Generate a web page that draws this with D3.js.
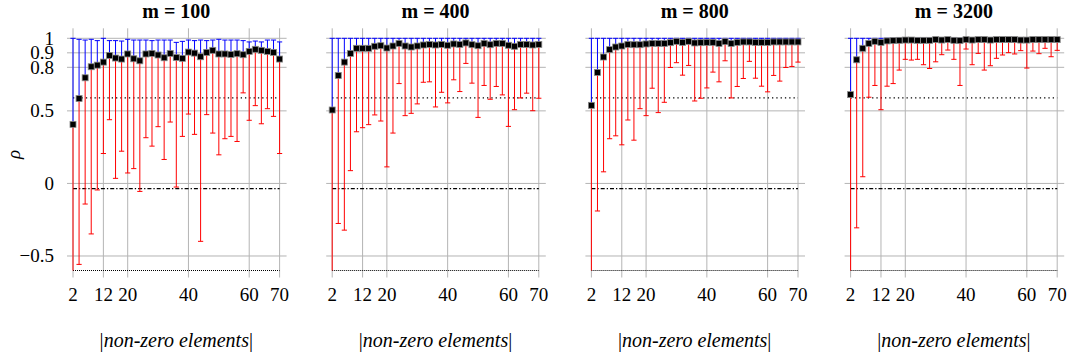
<!DOCTYPE html>
<html>
<head>
<meta charset="utf-8">
<script src="https://cdn.jsdelivr.net/npm/d3@7"></script>
<style>
  body { margin: 0; background: #fff; }
  svg { display: block; }
</style>
</head>
<body>
<svg id="chart" width="1070" height="359" font-family="'Liberation Serif', 'Times New Roman', Tinos, 'DejaVu Serif', 'Noto Serif', serif"></svg>
<script>
// panel titles
const titles = ["m = 100", "m = 400", "m = 800", "m = 3200"];

// |non-zero elements|
const xs = [2, 4, 6, 8, 10, 12, 14, 16, 18, 20, 22, 24, 26, 28, 30, 32, 34, 36, 38, 40,
  42, 44, 46, 48, 50, 52, 54, 56, 58, 60, 62, 64, 66, 68, 70];

const xTicks = [2, 12, 20, 40, 60, 70];
const yTicks = [1, 0.9, 0.8, 0.5, 0, -0.5];
const yTickLabels = ["1", "0.9", "0.8", "0.5", "0", "\u22120.5"];

// m = 100
const mean100 = [0.407, 0.585, 0.728, 0.804, 0.815, 0.836, 0.882, 0.864, 0.857, 0.892, 0.859, 0.845, 0.892, 0.896, 0.885, 0.866, 0.896, 0.868, 0.862, 0.905,
  0.898, 0.873, 0.903, 0.917, 0.892, 0.892, 0.889, 0.894, 0.887, 0.910, 0.924, 0.917, 0.910, 0.903, 0.857];
const lower100 = [-0.75, -0.558, -0.142, -0.348, -0.045, 0.206, 0.439, 0.035, 0.222, 0.072, 0.102, -0.055, 0.315, 0.257, 0.391, 0.165, 0.423, -0.025, 0.324, 0.478,
  0.338, -0.399, 0.474, 0.347, 0.197, 0.308, 0.324, 0.289, 0.624, 0.435, 0.536, 0.411, 0.515, 0.462, 0.206];
const upper100 = [1, 0.993, 0.988, 0.993, 0.984, 1, 0.984, 0.984, 0.981, 0.993, 0.988, 0.988, 0.988, 0.984, 0.988, 0.988, 0.988, 0.972, 0.979, 0.988,
  0.984, 0.988, 0.984, 0.988, 0.993, 0.988, 0.988, 0.988, 0.984, 0.975, 0.981, 0.975, 0.988, 0.988, 0.975];

// m = 400
const mean400 = [0.506, 0.744, 0.836, 0.896, 0.931, 0.931, 0.931, 0.945, 0.949, 0.933, 0.947, 0.965, 0.947, 0.940, 0.947, 0.954, 0.958, 0.954, 0.958, 0.952,
  0.961, 0.958, 0.968, 0.956, 0.949, 0.965, 0.956, 0.965, 0.965, 0.952, 0.945, 0.958, 0.958, 0.954, 0.958];
const lower400 = [-0.75, -0.276, -0.322, 0.088, 0.356, 0.384, 0.405, 0.472, 0.430, 0.114, 0.347, 0.688, 0.467, 0.483, 0.548, 0.697, 0.700, 0.527, 0.628, 0.555,
  0.714, 0.633, 0.827, 0.691, 0.455, 0.675, 0.580, 0.668, 0.610, 0.393, 0.508, 0.589, 0.622, 0.501, 0.587];
const upper400 = [1, 1, 1, 1, 1, 1, 1, 1, 1, 1, 1, 1, 1, 1, 1, 1, 1, 1, 1, 1,
  1, 1, 1, 1, 1, 1, 1, 1, 1, 1, 1, 1, 1, 1, 1];

// m = 800
const mean800 = [0.538, 0.765, 0.871, 0.922, 0.940, 0.947, 0.958, 0.956, 0.956, 0.961, 0.965, 0.965, 0.965, 0.970, 0.979, 0.972, 0.979, 0.968, 0.970, 0.972,
  0.972, 0.965, 0.977, 0.965, 0.972, 0.975, 0.975, 0.972, 0.972, 0.972, 0.975, 0.975, 0.975, 0.975, 0.975];
const lower800 = [-0.75, -0.19, 0.08, 0.308, 0.328, 0.266, 0.437, 0.298, 0.515, 0.467, 0.656, 0.488, 0.559, 0.799, 0.832, 0.746, 0.813, 0.568, 0.587, 0.658,
  0.767, 0.700, 0.845, 0.589, 0.668, 0.723, 0.841, 0.725, 0.670, 0.631, 0.744, 0.705, 0.799, 0.806, 0.836];
const upper800 = [1, 1, 1, 1, 1, 1, 1, 1, 1, 1, 1, 1, 1, 1, 1, 1, 1, 1, 1, 1,
  1, 1, 1, 1, 1, 1, 1, 1, 1, 1, 1, 1, 1, 1, 1];

// m = 3200
const mean3200 = [0.612, 0.852, 0.931, 0.965, 0.979, 0.972, 0.982, 0.984, 0.986, 0.988, 0.988, 0.986, 0.986, 0.986, 0.991, 0.988, 0.991, 0.986, 0.984, 0.991,
  0.988, 0.991, 0.991, 0.988, 0.991, 0.991, 0.991, 0.991, 0.988, 0.988, 0.991, 0.991, 0.991, 0.991, 0.991];
const lower3200 = [-0.75, -0.306, 0.046, 0.594, 0.675, 0.508, 0.670, 0.688, 0.781, 0.855, 0.850, 0.855, 0.818, 0.792, 0.838, 0.887, 0.919, 0.855, 0.675, 0.926,
  0.818, 0.896, 0.781, 0.811, 0.862, 0.885, 0.901, 0.892, 0.915, 0.795, 0.912, 0.894, 0.931, 0.873, 0.917];
const upper3200 = [1, 1, 1, 1, 1, 1, 1, 1, 1, 1, 1, 1, 1, 1, 1, 1, 1, 1, 1, 1,
  1, 1, 1, 1, 1, 1, 1, 1, 1, 1, 1, 1, 1, 1, 1];

// horizontal reference lines
const refValues = [0.59, -0.036, -0.6];
const refDashes = ["1.3,3", "4,2,1.3,2", "1,1"];

const panels = [
  {mean: mean100, lower: lower100, upper: upper100},
  {mean: mean400, lower: lower400, upper: upper400},
  {mean: mean800, lower: lower800, upper: upper800},
  {mean: mean3200, lower: lower3200, upper: upper3200}
];

const svg = d3.select("#chart");
const panelLeft = 73, panelStep = 259.2, plotW = 206.6;
const plotTop = 38.3, plotBottom = 270.5;

const y = d3.scaleLinear().domain([-0.6, 1]).range([plotBottom, plotTop]);

panels.forEach((p, k) => {
  const left = panelLeft + k * panelStep;
  const x = d3.scaleLinear().domain([2, 70]).range([left, left + plotW]);
  const g = svg.append("g");

  // grid (extends past plot like tick marks)
  g.selectAll(".hg").data(yTicks).join("line")
    .attr("x1", left - 6).attr("x2", left + plotW + 7)
    .attr("y1", d => y(d)).attr("y2", d => y(d))
    .attr("stroke", "#b4b4b4").attr("stroke-width", 1);
  g.selectAll(".vg").data(xTicks).join("line")
    .attr("x1", d => x(d)).attr("x2", d => x(d))
    .attr("y1", plotTop - 10).attr("y2", plotBottom + 7)
    .attr("stroke", "#b4b4b4").attr("stroke-width", 1);

  // reference lines
  refValues.forEach((v, i) => {
    g.append("line")
      .attr("x1", x(2)).attr("x2", x(70))
      .attr("y1", y(v)).attr("y2", y(v))
      .attr("stroke", "#000").attr("stroke-width", 1.2)
      .attr("stroke-dasharray", refDashes[i]);
  });

  // error bars
  const clipId = "clip" + k;
  svg.append("clipPath").attr("id", clipId).append("rect")
    .attr("x", left - 4).attr("y", plotTop - 2)
    .attr("width", plotW + 8).attr("height", plotBottom - plotTop + 2);
  const eb = g.append("g").attr("clip-path", `url(#${clipId})`);

  xs.forEach((xv, i) => {
    const cx = x(xv);
    eb.append("line")
      .attr("x1", cx).attr("x2", cx)
      .attr("y1", y(p.mean[i])).attr("y2", y(p.upper[i]))
      .attr("stroke", "#0000ff").attr("stroke-width", 1);
    eb.append("line")
      .attr("x1", cx - 2.6).attr("x2", cx + 2.6)
      .attr("y1", y(p.upper[i])).attr("y2", y(p.upper[i]))
      .attr("stroke", "#0000ff").attr("stroke-width", 1);
    eb.append("line")
      .attr("x1", cx).attr("x2", cx)
      .attr("y1", y(p.mean[i])).attr("y2", y(p.lower[i]))
      .attr("stroke", "#ff0000").attr("stroke-width", 1);
    eb.append("line")
      .attr("x1", cx - 2.6).attr("x2", cx + 2.6)
      .attr("y1", y(p.lower[i])).attr("y2", y(p.lower[i]))
      .attr("stroke", "#ff0000").attr("stroke-width", 1);
  });

  // mean markers
  g.selectAll(".mk").data(xs).join("rect")
    .attr("x", d => x(d) - 3)
    .attr("y", (d, i) => y(p.mean[i]) - 3)
    .attr("width", 6).attr("height", 6)
    .attr("fill", "#000").attr("stroke", "#888").attr("stroke-width", 0.8);

  // x tick labels
  g.selectAll(".xl").data(xTicks).join("text")
    .attr("x", d => x(d)).attr("y", 301)
    .attr("text-anchor", "middle").attr("font-size", 19)
    .text(d => d);

  // title
  g.append("text")
    .attr("x", left + plotW / 2).attr("y", 18)
    .attr("text-anchor", "middle").attr("font-size", 20).attr("font-weight", "bold")
    .text(titles[k]);

  // x axis label
  const xl = g.append("text")
    .attr("x", left + plotW / 2).attr("y", 347)
    .attr("text-anchor", "middle").attr("font-size", 20);
  xl.append("tspan").text("|");
  xl.append("tspan").attr("font-style", "italic").text("non-zero elements");
  xl.append("tspan").text("|");

  if (k === 0) {
    g.selectAll(".yl").data(yTicks).join("text")
      .attr("x", 54).attr("y", d => y(d))
      .attr("dy", "0.33em")
      .attr("text-anchor", "end").attr("font-size", 19)
      .text((d, i) => yTickLabels[i]);
    g.append("text")
      .attr("transform", `translate(20,${(plotTop + plotBottom) / 2}) rotate(-90)`)
      .attr("text-anchor", "middle").attr("font-size", 19).attr("font-style", "italic")
      .text("\u03c1");
  }
});
</script>
</body>
</html>
